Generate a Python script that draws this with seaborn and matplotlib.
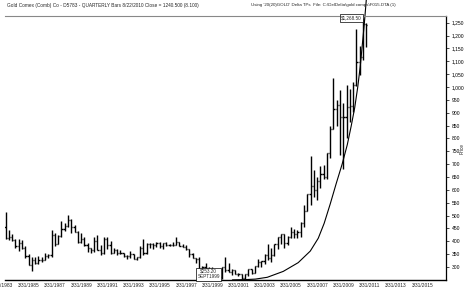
import numpy as np
import pandas as pd
import matplotlib
matplotlib.use("Agg")
import matplotlib.pyplot as plt
import matplotlib.transforms as mtransforms
from matplotlib.ticker import FuncFormatter
import seaborn as sns

# ---------------- data (quarterly OHLC, 1983 Q1 .. 2010 Q3) ----------------
first_year = 1983
opens = [456, 414, 416, 406, 382, 394, 375, 343, 309, 329, 317, 326, 327, 344, 345, 425,
         391, 419, 448, 459, 484, 455, 437, 397, 410, 385, 373, 366, 401, 368, 353, 408,
         386, 355, 368, 354, 353, 341, 343, 349, 333, 337, 375, 355, 391, 390, 385, 394,
         383, 392, 387, 384, 387, 396, 382, 379, 369, 349, 334, 332, 290, 300, 296, 294,
         288, 279, 262, 299, 288, 279, 288, 274, 272, 258, 271, 292, 278, 302, 318, 324,
         347, 335, 346, 388, 416, 427, 394, 416, 438, 428, 436, 472, 518, 583, 616, 600,
         636, 663, 650, 743, 838, 916, 930, 884, 884, 922, 927, 1009, 1097, 1115, 1245]
highs = [512, 445, 428, 410, 407, 405, 383, 352, 340, 338, 341, 338, 356, 349, 442, 432,
         424, 477, 470, 502, 486, 465, 440, 433, 415, 392, 375, 418, 425, 385, 415, 415,
         403, 372, 370, 368, 356, 345, 362, 349, 340, 380, 409, 393, 395, 395, 397, 397,
         394, 396, 390, 396, 418, 396, 390, 385, 369, 355, 336, 338, 303, 314, 299, 300,
         292, 290, 300, 338, 316, 292, 290, 275, 273, 274, 294, 294, 305, 330, 325, 350,
         389, 372, 391, 417, 430, 430, 420, 457, 447, 443, 475, 540, 585, 732, 677, 650,
         691, 696, 745, 848, 1033, 951, 988, 939, 1007, 993, 1021, 1227, 1161, 1268.5, 1250]
lows = [408, 405, 401, 374, 364, 370, 335, 307, 284, 310, 310, 318, 326, 335, 340, 380,
        390, 417, 440, 456, 432, 436, 395, 395, 380, 358, 355, 358, 365, 345, 350, 370,
        352, 355, 347, 352, 338, 330, 335, 330, 326, 335, 345, 350, 375, 370, 378, 375,
        370, 380, 380, 380, 385, 381, 378, 366, 340, 335, 315, 285, 280, 285, 272, 283,
        278, 256, 253.2, 281, 280, 270, 271, 264, 255, 255, 264, 272, 277, 300, 300, 313,
        326, 319, 342, 370, 390, 372, 385, 411, 411, 412, 418, 456, 517, 543, 573, 560,
        606, 642, 642, 723, 838, 850, 735, 681, 801, 865, 902, 1003, 1045, 1106, 1155]
closes = [414, 416, 406, 382, 394, 375, 343, 309, 329, 317, 326, 327, 344, 345, 425, 391,
          419, 448, 459, 484, 455, 437, 397, 410, 385, 373, 366, 401, 368, 353, 408, 386,
          355, 368, 354, 353, 341, 343, 349, 333, 337, 375, 355, 391, 390, 385, 394, 383,
          392, 387, 384, 387, 396, 382, 379, 369, 349, 334, 332, 290, 300, 296, 294, 288,
          279, 262, 299, 288, 279, 288, 274, 272, 258, 271, 292, 278, 302, 318, 324, 347,
          335, 346, 388, 416, 427, 394, 416, 438, 428, 436, 472, 518, 583, 616, 600, 636,
          663, 650, 743, 838, 916, 930, 884, 884, 922, 927, 1009, 1097, 1115, 1245, 1240.5]

# curve: decimal year, price
curve_x = [2000.54, 2001.53, 2002.29, 2003.20, 2004.42, 2005.56, 2006.48, 2007.09, 2007.54,
           2008.00, 2008.46, 2008.91, 2009.30, 2009.60, 2009.87, 2010.10, 2010.29, 2010.44,
           2010.59, 2010.75]
curve_y = [250, 251, 253, 260, 283, 317, 362, 412, 470, 545, 625, 700, 775, 848, 920, 1000,
           1080, 1160, 1240, 1338]

tick_years = list(range(1983, 2016, 2))
tick_labels = ["/1983"] + [f"3/31/{y}" for y in tick_years[1:]]
y_ticks = list(range(300, 1251, 50))

title_left = "Gold Comex (Comb) Co - D5783 - QUARTERLY Bars 8/22/2010 Close = 1240.500 (8.100)"
title_right = "Using '20(20)GOLD' Delta TPs  File: C:\\DelDelta\\gold comps\\F015.DTA (1)"

# ---------------- figure ----------------
sns.set_style("white")
plt.rcParams['font.family'] = ['Liberation Sans', 'DejaVu Sans']

df = pd.DataFrame({"open": opens, "high": highs, "low": lows, "close": closes})
df["x"] = first_year + (np.arange(len(df)) + 1) * 0.25

fig = plt.figure(figsize=(4.68, 2.92), dpi=100)
ax = fig.add_axes([5 / 468, 12 / 292, 441 / 468, 264 / 292])

lw = 1.0
tick_w = 0.09
ax.vlines(df["x"], df["low"], df["high"], color="black", lw=lw)
ax.hlines(df["open"], df["x"] - tick_w, df["x"], color="black", lw=lw)
ax.hlines(df["close"], df["x"], df["x"] + tick_w, color="black", lw=lw)

cdf = pd.DataFrame({"x": curve_x, "y": curve_y})
sns.lineplot(data=cdf, x="x", y="y", ax=ax, color="black", lw=0.8, sort=False,
             estimator=None, clip_on=False)

ax.set_xlim(1983.2, 2016.83)
ax.set_ylim(249.5, 1276)

ax.set_xticks([y + 0.25 for y in tick_years])
ax.set_xticklabels(tick_labels)
ax.set_yticks(y_ticks)
ax.yaxis.set_major_formatter(FuncFormatter(lambda v, p: f"{int(v):,}"))
ax.yaxis.tick_right()
ax.set_ylabel("")
ax.set_xlabel("")

ax.tick_params(axis="y", which="both", right=True, left=False, length=2.5, width=0.5,
               labelsize=3.6, pad=1.5, direction="out", colors="black")
ax.tick_params(axis="x", which="both", bottom=False, length=0, labelsize=3.5, pad=2.5)

offset = mtransforms.ScaledTranslation(-3 / 100, 0, fig.dpi_scale_trans)
labs = ax.get_xticklabels()
for lab in labs:
    lab.set_transform(lab.get_transform() + offset)
labs[0].set_horizontalalignment("left")
labs[0].set_transform(labs[0].get_transform()
                      + mtransforms.ScaledTranslation(-3 / 100, 0, fig.dpi_scale_trans))

ax.spines["left"].set_visible(False)
ax.spines["top"].set_color("#888888")
ax.spines["top"].set_linewidth(0.8)
ax.spines["right"].set_color("black")
ax.spines["right"].set_linewidth(0.9)
ax.spines["bottom"].set_color("black")
ax.spines["bottom"].set_linewidth(1.0)
ax.grid(False)

# annotation boxes
box = dict(boxstyle="square,pad=0.25", fc="white", ec="black", lw=0.5)
ax.text(2010.42, 1268.5, "$1,268.50", fontsize=3.3, ha="right", va="center", bbox=box,
        clip_on=False)
ax.text(1999.6, 252, "$253.20\nSEPT1999", fontsize=3.3, ha="right", va="bottom",
        bbox=box, linespacing=1.1, multialignment="center")

fig.text(462 / 468, 1 - 148 / 292, "Price", fontsize=3.4, rotation=90,
         ha="center", va="center")
fig.text(7 / 468, 1 - 5 / 292, title_left, fontsize=3.4, ha="left", va="center")
fig.text(251 / 468, 1 - 5 / 292, title_right, fontsize=3.2, ha="left", va="center")

fig.savefig("out.png", dpi=100)
